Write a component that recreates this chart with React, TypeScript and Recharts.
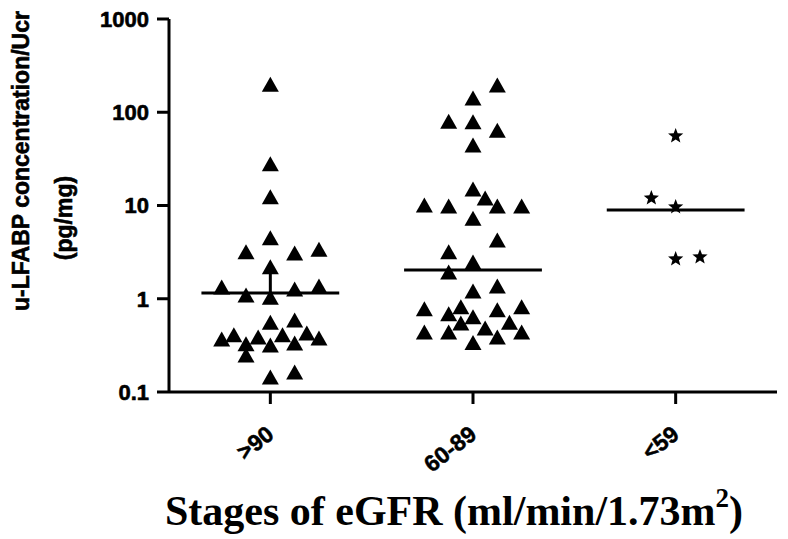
// eGFR stage scatter (dot) plot with log y axis and median lines
import React from "react";
import { ScatterChart, Scatter, XAxis, YAxis, ReferenceLine } from "recharts";

const categories = [">90", "60-89", "<59"];
const yTicks = [0.1, 1, 10, 100, 1000];

// u-LFABP / Ucr values, with the jitter column of each dot
const above90Values = [200, 28, 12.4, 4.5, 3.2, 3.1, 3.4, 2.2, 1.34, 1.1, 1.04, 1.27, 1.37, 0.56, 0.59, 0.37, 0.41, 0.33, 0.39, 0.32, 0.41, 0.335, 0.43, 0.38, 0.25, 0.145, 0.164];
const above90Jitter = [0, 0, 0, 0, -2, 2, 4, 0, -4, -2, 0, 2, 4, 0, 2, -4, -3, -2, -1, 0, 1, 2, 3, 4, -2, 0, 2];

const mid6089Values = [196, 142, 80, 79, 64, 44.5, 15, 12, 10.1, 9.9, 9.9, 9.9, 7.3, 4.27, 3.2, 2.48, 1.94, 1.21, 1.37, 0.78, 0.69, 0.82, 0.64, 0.76, 0.82, 0.56, 0.44, 0.44, 0.55, 0.485, 0.39, 0.44, 0.34];
const mid6089Jitter = [2, 0, -2, 0, 2, 0, 0, 1, -4, -2, 2, 4, 0, 2, -2, 0, -2, 0, 2, -4, -2, -1, 0, 2, 4, 3, -4, -2, -1, 1, 2, 4, 0];

const below59Values = [57, 12.3, 9.9, 2.73, 2.87];
const below59Jitter = [0, -2, 0, 0, 2];

const medians = [1.15, 2.03, 8.95];
const above90Whisker = 2.2;

const JITTER_STEP = 0.06;
const MEDIAN_HALF = 0.34;

const toPoints = (groupIndex: number, values: number[], jitter: number[]) =>
  values.map((v, i) => ({ x: groupIndex + 0.5 + jitter[i] * JITTER_STEP, y: v }));

const sans = "'Liberation Sans', Arial, sans-serif";
const serif = "'Liberation Serif', 'Times New Roman', serif";

const Triangle = (props: any) => {
  const { cx, cy } = props;
  if (cx == null || cy == null) return null;
  return <path d={`M${cx},${cy - 7.5} L${cx + 8.5},${cy + 7.5} L${cx - 8.5},${cy + 7.5} Z`} fill="#000" />;
};

const Star = (props: any) => {
  const { cx, cy } = props;
  if (cx == null || cy == null) return null;
  const pts: string[] = [];
  for (let i = 0; i < 10; i++) {
    const r = i % 2 === 0 ? 8 : 3.4;
    const a = -Math.PI / 2 + (i * Math.PI) / 5;
    pts.push(`${cx + r * Math.cos(a)},${cy + 1 + r * Math.sin(a)}`);
  }
  return <polygon points={pts.join(" ")} fill="#000" />;
};

const XTick = (props: any) => {
  const { x, y, payload } = props;
  const label = categories[Math.floor(payload.value)];
  const tx = x + 5;
  const ty = y + 33;
  return (
    <text
      x={tx}
      y={ty}
      textAnchor="end"
      transform={`rotate(-38, ${tx}, ${ty})`}
      fill="#000"
      stroke="#000"
      strokeWidth={0.5}
      fontSize={23}
      fontWeight={700}
      fontFamily={sans}
    >
      {label}
    </text>
  );
};

const yTitleStyle = { fontFamily: sans, fontWeight: 700, fontSize: "23px", fill: "#000", stroke: "#000", strokeWidth: 0.6 };

export default function App() {
  return (
    <div style={{ position: "absolute", left: 0, top: 0, background: "#fff" }}>
      <ScatterChart width={788} height={539} margin={{ top: 19, right: 11, bottom: 0, left: 0 }}>
        <XAxis
          type="number"
          dataKey="x"
          domain={[0, 3]}
          ticks={[0.5, 1.5, 2.5]}
          height={147}
          stroke="#000"
          strokeWidth={3}
          tickSize={12}
          tickMargin={0}
          tick={<XTick />}
          label={{
            content: () => (
              <text x={454} y={525} textAnchor="middle" fill="#000" fontFamily={serif} fontWeight={700} fontSize={42}>
                Stages of eGFR (ml/min/1.73m
                <tspan fontSize={27} dy={-18}>2</tspan>
                <tspan dy={18}>)</tspan>
              </text>
            ),
          }}
        />
        <YAxis
          type="number"
          dataKey="y"
          scale="log"
          domain={[0.1, 1000]}
          ticks={yTicks}
          allowDataOverflow
          width={169}
          stroke="#000"
          strokeWidth={3}
          tickSize={12}
          tickMargin={8}
          tickFormatter={(v: number) => String(v)}
          tick={{ fill: "#000", stroke: "#000", strokeWidth: 0.6, fontSize: 22, fontWeight: 700, fontFamily: sans }}
          label={{
            content: () => (
              <g>
                <text x={29} y={161} textAnchor="middle" transform="rotate(-90, 29, 161)" style={yTitleStyle}>
                  u-LFABP concentration/Ucr
                </text>
                <text x={72} y={218} textAnchor="middle" transform="rotate(-90, 72, 218)" style={yTitleStyle}>
                  (pg/mg)
                </text>
              </g>
            ),
          }}
        />
        {medians.map((m, i) => (
          <ReferenceLine
            key={categories[i]}
            segment={[
              { x: i + 0.5 - MEDIAN_HALF, y: m },
              { x: i + 0.5 + MEDIAN_HALF, y: m },
            ]}
            stroke="#000"
            strokeWidth={3}
          />
        ))}
        <ReferenceLine
          segment={[
            { x: 0.5, y: medians[0] },
            { x: 0.5, y: above90Whisker },
          ]}
          stroke="#000"
          strokeWidth={3}
        />
        <Scatter data={toPoints(0, above90Values, above90Jitter)} shape={<Triangle />} isAnimationActive={false} />
        <Scatter data={toPoints(1, mid6089Values, mid6089Jitter)} shape={<Triangle />} isAnimationActive={false} />
        <Scatter data={toPoints(2, below59Values, below59Jitter)} shape={<Star />} isAnimationActive={false} />
      </ScatterChart>
    </div>
  );
}
